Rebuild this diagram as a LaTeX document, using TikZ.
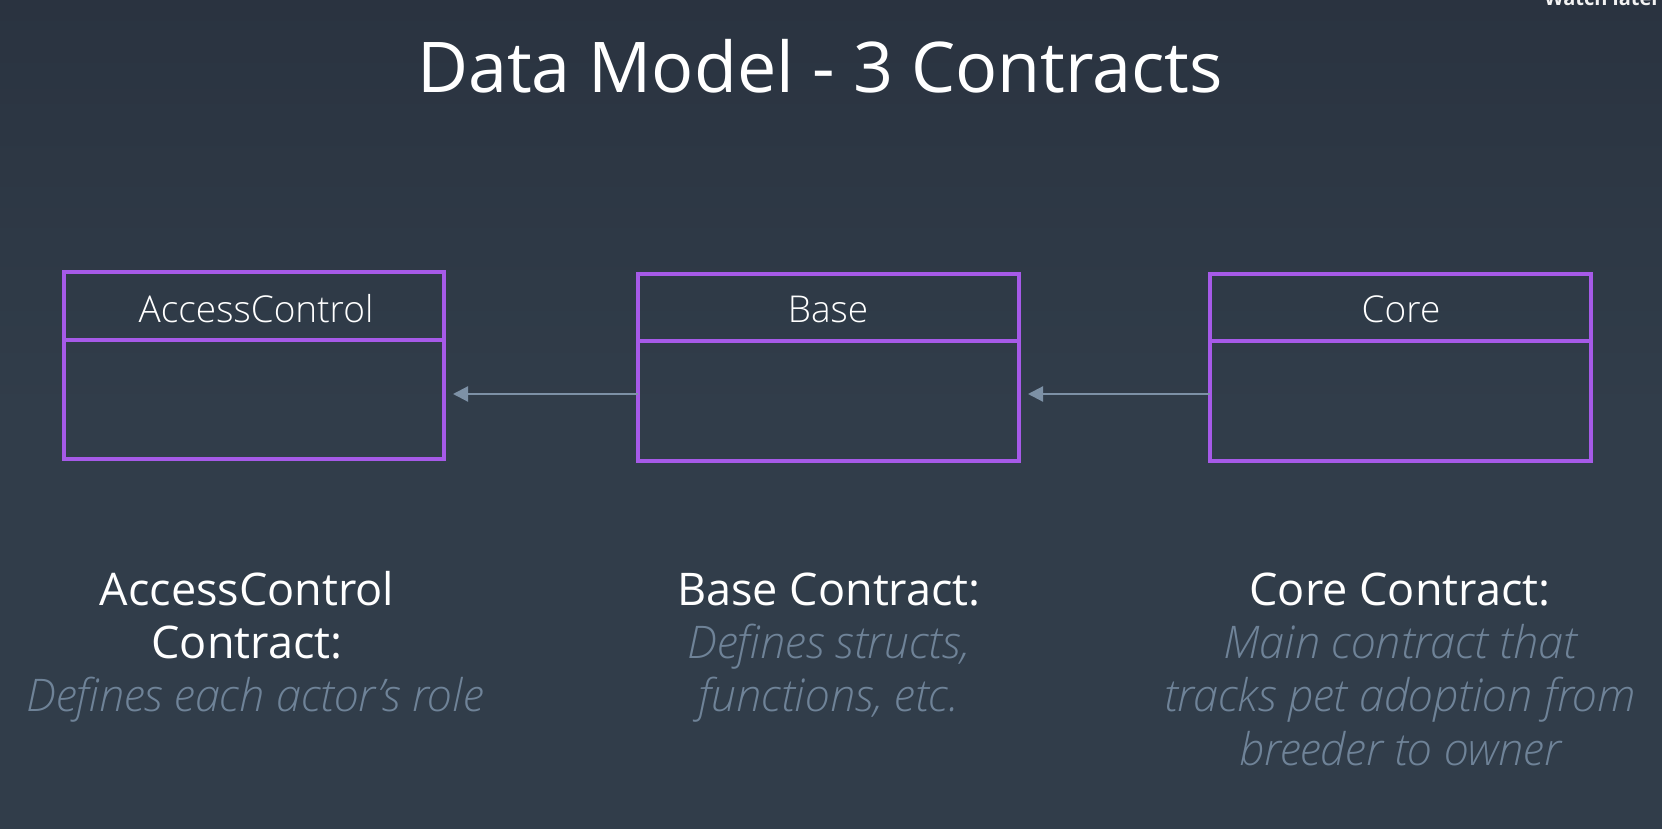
\documentclass[tikz,border=0pt]{standalone}
\usepackage{fontspec}
\setmainfont{Open Sans}
\newfontfamily\lightit{Open Sans Light Italic}
\newfontfamily\lightup{Open Sans Light}
\newfontfamily\boldsans{Open Sans Bold}
\usetikzlibrary{arrows.meta}
\definecolor{bgtop}{HTML}{2A3340}
\definecolor{bgmid}{HTML}{313D4A}
\definecolor{boxpurple}{HTML}{A65AE8}
\definecolor{arrowgray}{HTML}{7D91A6}
\definecolor{desc}{HTML}{6F8398}
\tikzset{
  cbox/.style={draw=boxpurple, line width=4pt},
  hdr/.style={text=white, font=\lightup\fontsize{37}{44}\selectfont, anchor=base},
  ttl/.style={text=white, font=\fontsize{45}{54}\selectfont, anchor=base},
  dsc/.style={text=desc, font=\lightit\fontsize{45}{54}\selectfont, anchor=base},
  link/.style={draw=arrowgray, line width=2.2pt, -{Triangle[length=15pt,width=15pt]}},
}
\begin{document}
\begin{tikzpicture}[x=1pt,y=-1pt]
\useasboundingbox (0,0) rectangle (1662,829);
\begin{scope}
\clip (0,0) rectangle (1662,829);
\shade[top color=bgtop, bottom color=bgmid, middle color=bgmid] (0,0) rectangle (1662,829);
\node[text=white!90!gray, font=\boldsans\fontsize{20}{24}\selectfont, anchor=base east] (wl) at (1664,6) {Watch later};
\end{scope}

\node[text=white, font=\fontsize{70}{84}\selectfont, anchor=base] (title) at (820,93) {Data Model - 3 Contracts};

% boxes
\draw[cbox] (64,272) rectangle (444,459);
\draw[cbox] (64,340) -- (444,340);
\coordinate (b1) at (444,394);
\node[hdr] (h1) at (256,322) {AccessControl};

\draw[cbox] (638,274) rectangle (1019,461);
\draw[cbox] (638,341) -- (1019,341);
\coordinate (b2l) at (638,394);
\coordinate (b2r) at (1019,394);
\node[hdr] (h2) at (828,322) {Base};

\draw[cbox] (1210,274) rectangle (1591,461);
\draw[cbox] (1210,341) -- (1591,341);
\coordinate (b3l) at (1210,394);
\node[hdr] (h3) at (1401,322) {Core};

\draw[link] (b2l) -- ([xshift=9pt]b1);
\draw[link] (b3l) -- ([xshift=9pt]b2r);

% bottom texts
\node[ttl] (t1a) at (247,605) {AccessControl};
\node[ttl] (t1b) at (247,658) {Contract:};
\node[dsc] (d1) at (255,711) {Defines each actor’s role};

\node[ttl] (t2) at (829,605) {Base Contract:};
\node[dsc] (d2a) at (829,658) {Defines structs,};
\node[dsc] (d2b) at (829,711) {functions, etc.};

\node[ttl] (t3) at (1400,605) {Core Contract:};
\node[dsc] (d3a) at (1400,658) {Main contract that};
\node[dsc] (d3b) at (1400,711) {tracks pet adoption from};
\node[dsc] (d3c) at (1400,765) {breeder to owner};
\end{tikzpicture}
\end{document}
